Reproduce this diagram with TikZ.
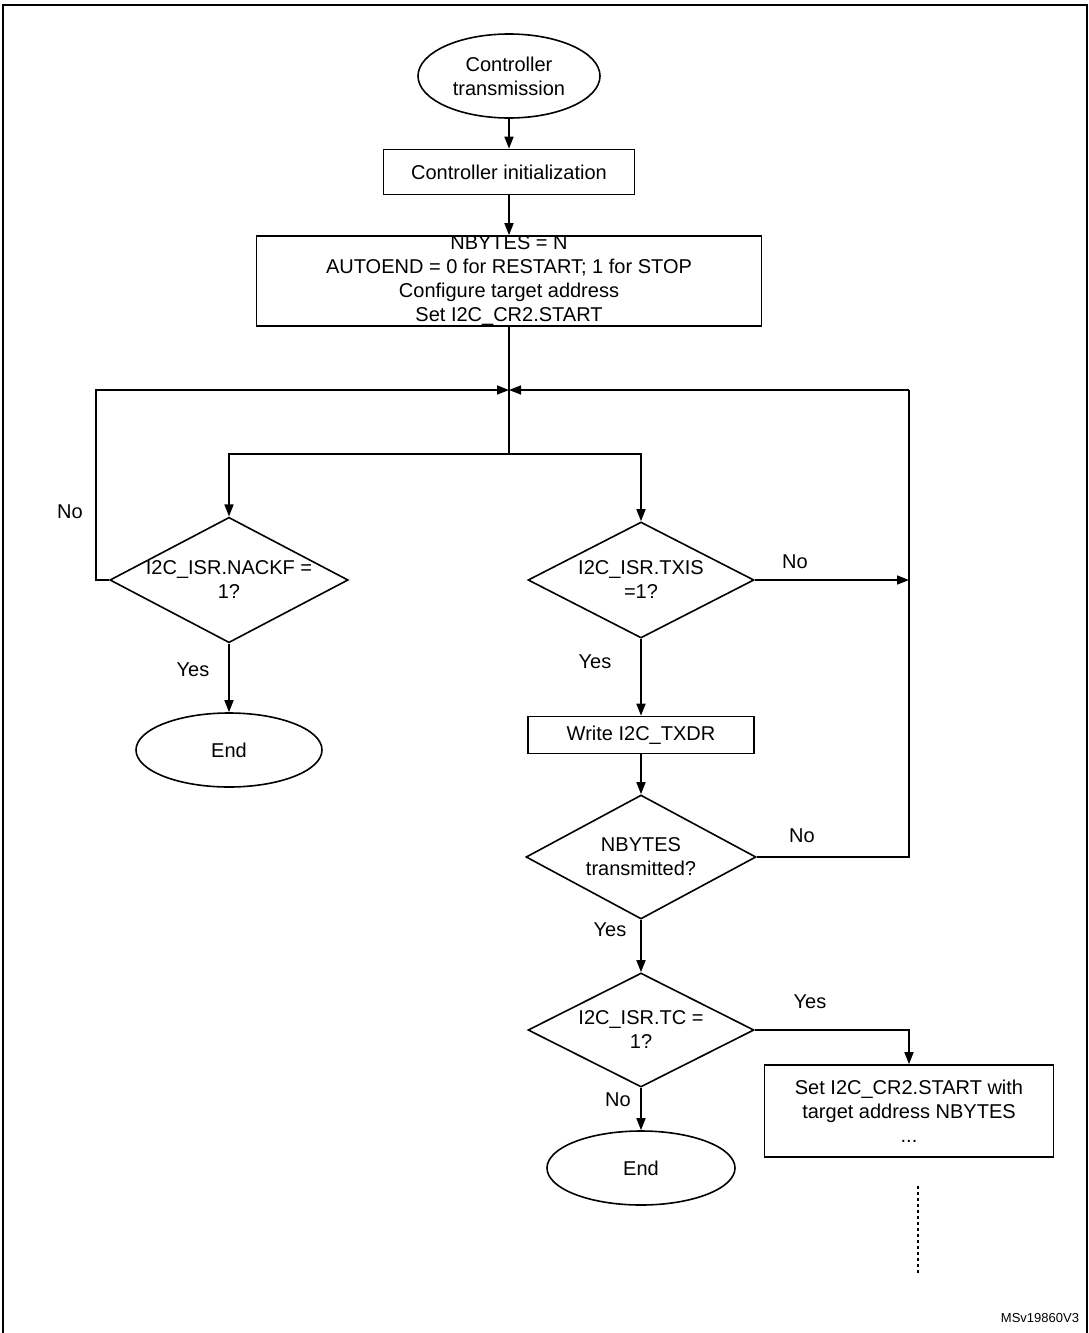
\documentclass[tikz,border=0pt]{standalone}
\usepackage{fontspec}
\setmainfont{Liberation Sans}
\usetikzlibrary{shapes.geometric,arrows.meta,positioning}

\begin{document}
\begin{tikzpicture}[x=1pt,y=-1pt,>={Triangle[length=12pt,width=9pt]},
            line width=1.6pt,font=\fontsize{20}{24}\selectfont,
            proc node/.style={rectangle,draw,align=center,inner sep=0pt},
            term node/.style={ellipse,draw,align=center,inner sep=0pt},
            test node/.style={diamond,draw,align=center,inner sep=0pt,aspect=1.9},
            lbl/.style={font=\fontsize{20}{24}\selectfont}]

            \useasboundingbox (0,0) rectangle (1089,1333);
            \draw[line width=1.2pt] (3,5) rectangle (1087,1340);

            \node[term node,minimum width=182pt,minimum height=84pt] (Start) at (509,76) {Controller\\transmission};
            \node[proc node,minimum width=251pt,minimum height=45pt] (Init) at (509,172) {Controller initialization};
            \node[proc node,minimum width=505pt,minimum height=88pt] (Config) at (509,281)
                {NBYTES = N\\AUTOEND = 0 for RESTART; 1 for STOP\\Configure target address\\Set I2C\_CR2.START};

            \coordinate (Join) at (509,390);
            \coordinate (Split) at (509,454);

            \node[test node,minimum width=230pt,minimum height=120pt] (Nackf) at (229,580) {I2C\_ISR.NACKF =\\1?};
            \node[term node,minimum width=186pt,minimum height=74pt] (EndLeft) at (229,750) {End};

            \node[test node,minimum width=226pt,minimum height=116pt] (Txis) at (641,580) {I2C\_ISR.TXIS\\=1?};
            \node[proc node,minimum width=226pt,minimum height=37pt] (WriteTx) at (641,735) {Write I2C\_TXDR};
            \node[test node,minimum width=230pt,minimum height=124pt] (Sent) at (641,857) {NBYTES\\transmitted?};
            \node[test node,minimum width=226pt,minimum height=114pt] (Tc) at (641,1030) {I2C\_ISR.TC =\\1?};
            \node[term node,minimum width=188pt,minimum height=74pt] (EndRight) at (641,1168) {End};
            \node[proc node,minimum width=289pt,minimum height=92pt] (Restart) at (909,1111)
                {Set I2C\_CR2.START with\\target address NBYTES\\...};

            \coordinate (LeftUp) at (96,390);
            \coordinate (RightUp) at (909,390);
            \coordinate (TxisRight) at (909,580);
            \coordinate (SentRight) at (909,857);
            \coordinate (TcRight) at (909,1030);
            \coordinate (DotTop) at (918,1186);
            \coordinate (DotBottom) at (918,1275);

            \draw[->] (Start) -- (Init);
            \draw[->] (Init) -- (Config);
            \draw (Config) -- (Split);
            \draw[->] (Split) -| (Nackf.north);
            \draw[->] (Split) -| (Txis.north);

            \draw[->] (Nackf.west) -| (LeftUp) -- (Join);
            \draw[->] (Nackf) -- (EndLeft);

            \draw[->] (Txis.east) -- (TxisRight);
            \draw[->] (Txis) -- (WriteTx);
            \draw[->] (WriteTx) -- (Sent);
            \draw (Sent.east) -- (SentRight) -- (RightUp);
            \draw[->] (RightUp) -- (Join);
            \draw[->] (Sent) -- (Tc);
            \draw[->] (Tc) -- (EndRight);
            \draw[->] (Tc.east) -- (TcRight) -- (Restart.north);
            \draw[dashed,dash pattern=on 3pt off 3pt] (DotTop) -- (DotBottom);

            \node[lbl] at (70,512) {No};
            \node[lbl] at (193,670) {Yes};
            \node[lbl] at (795,562) {No};
            \node[lbl] at (595,662) {Yes};
            \node[lbl] at (802,836) {No};
            \node[lbl] at (610,930) {Yes};
            \node[lbl] at (810,1002) {Yes};
            \node[lbl] at (618,1100) {No};
            \node[font=\fontsize{13}{15}\selectfont] (Ref) at (1040,1318) {MSv19860V3};
          \end{tikzpicture}
\end{document}
